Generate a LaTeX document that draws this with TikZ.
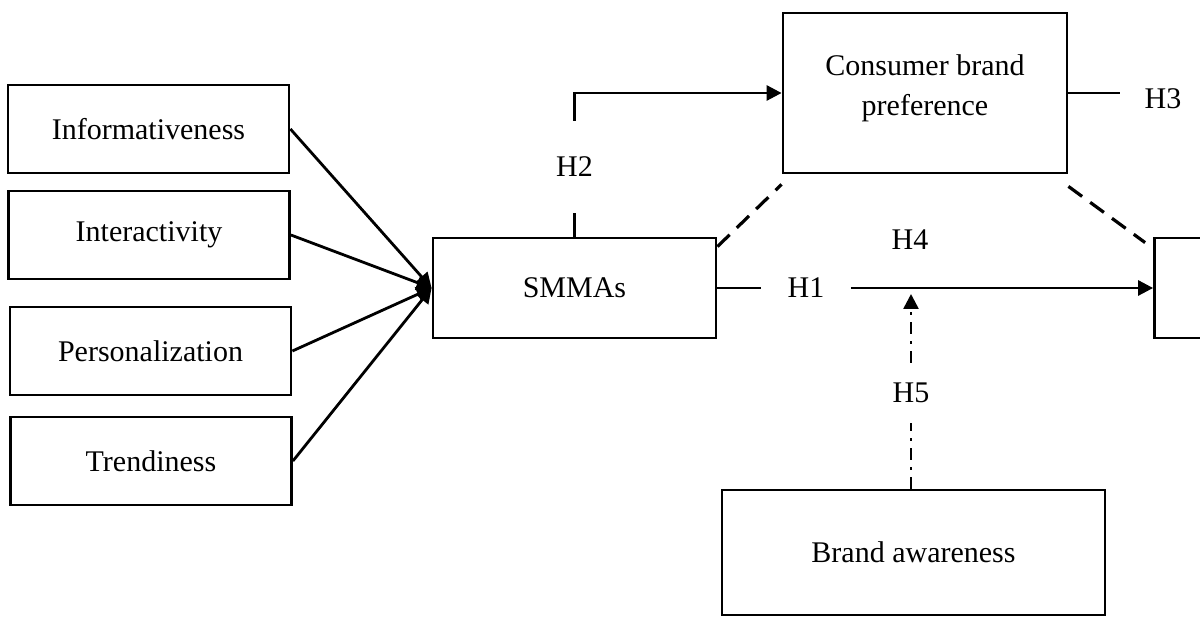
\documentclass[tikz,border=0pt]{standalone}
\usepackage{fontspec}
\setmainfont{Liberation Serif}
\usepackage{xcolor}
\usetikzlibrary{calc,arrows.meta}
\definecolor{ink}{HTML}{000000}
\definecolor{paper}{HTML}{FFFFFF}
\tikzset{
  box/.style={draw=ink, line width=1.4pt, rectangle, inner sep=0pt, font=\fontsize{15}{20}\selectfont, align=center},
  leftbox/.style={box, minimum width=140.5pt, minimum height=44pt},
  link/.style={draw=ink, line width=1.4pt},
  arr/.style={link, -{Triangle[length=7.5pt,width=7.5pt]}},
  dashlink/.style={link, line width=1.6pt, dash pattern=on 8.5pt off 5pt},
  modlink/.style={draw=ink, line width=1.3pt, dash pattern=on 6pt off 3.5pt on 1.5pt off 3.5pt},
  modarr/.style={modlink, -{Triangle[length=7.5pt,width=7.5pt]}},
  hyp/.style={inner sep=0pt, font=\fontsize{15}{18}\selectfont}
}

\begin{document}
\begin{tikzpicture}[x=0.5pt, y=-0.5pt]
  \clip (0,0) rectangle (1200,630);
  \fill[paper] (0,0) rectangle (1200,630);
  % dimensions
  \node[leftbox] (info)  at (148.5,129) {Informativeness};
  \node[leftbox] (inter) at (149,235)   {Interactivity};
  \node[leftbox] (pers)  at (150.5,351) {Personalization};
  \node[leftbox] (trend) at (151,461)   {Trendiness};
  % constructs
  \node[box, minimum width=141.5pt, minimum height=50pt] (smma) at (574.5,288) {SMMAs};
  \node[box, minimum width=142pt, minimum height=80pt, text depth=8pt] (cbp) at (925,93) {Consumer brand\\preference};
  \node[box, minimum width=142pt, minimum height=50pt] (outc) at (1296.5,288) {};
  \node[box, minimum width=191.5pt, minimum height=62.5pt] (aware) at (913.5,552.5) {Brand awareness};
  % hypotheses
  \node[hyp, minimum width=44.5pt] (h1) at (806,288) {H1};
  \node[hyp, minimum height=46pt] (h2) at (574.5,167) {H2};
  \node[hyp, minimum width=43pt] (h3) at (1163,99) {H3};
  \node[hyp] (h4) at (910,240) {H4};
  \node[hyp, minimum height=30pt] (h5) at (911,393) {H5};
  \coordinate (mod) at (911,294);
  % paths
  \foreach \d in {info,inter,pers,trend}
    \draw[arr] (\d.east) -- (smma.west);
  \draw[link] (smma.north) -- (h2.south);
  \draw[arr] (h2.north) |- (cbp.west);
  \draw[link] (cbp.east) -- (cbp.east -| h3.west);
  \draw[link] (smma.east) -- (h1.west);
  \draw[arr] (h1.east) -- (outc.west);
  \draw[dashlink] ([yshift=-5pt]smma.north east) -- ([yshift=-5pt]cbp.south west);
  \draw[dashlink] ([yshift=-6pt]cbp.south east) -- ([xshift=-4pt,yshift=-3pt]outc.north west);
  \draw[modlink] (h5.south |- aware.north) -- (h5.south);
  \draw[modarr] (h5.north) -- (mod);
\end{tikzpicture}
\end{document}
